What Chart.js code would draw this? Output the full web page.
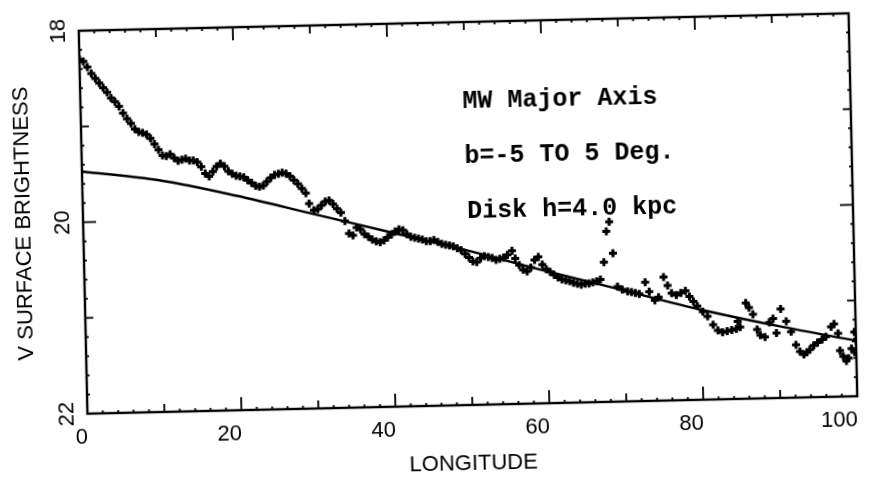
<!DOCTYPE html>
<html>
<head>
<meta charset="utf-8">
<script src="https://cdn.jsdelivr.net/npm/chart.js@4.4.1/dist/chart.umd.min.js"></script>
<style>
  html, body { margin: 0; padding: 0; background: #fff; overflow: hidden; }
  #wrap { width: 875px; height: 478px; transform: rotate(-1.3deg); transform-origin: 468px 213px; }
</style>
</head>
<body>
<div id="wrap"><canvas id="grafico" width="875" height="478"></canvas></div>
<script>
// longitud (grados) y brillo superficial V (mag/arcsec^2)
const longitud = [
  0.0, 0.5, 1.0, 1.5, 2.0, 2.5, 3.0, 3.5, 4.0, 4.5, 5.0, 5.5, 6.0, 6.5, 7.0, 7.5, 8.0, 8.5, 9.0, 9.5,
  10.0, 10.5, 11.0, 11.5, 12.0, 12.5, 13.0, 13.5, 14.0, 14.5, 15.0, 15.5, 16.0, 16.5, 17.0, 17.5, 18.0, 18.5, 19.0, 19.5,
  20.0, 20.5, 21.0, 21.5, 22.0, 22.5, 23.0, 23.5, 24.0, 24.5, 25.0, 25.5, 26.0, 26.5, 27.0, 27.5, 28.0, 28.5, 29.0, 29.4,
  30.0, 30.5, 31.0, 31.5, 32.0, 32.5, 33.0, 33.5, 34.0, 34.5, 35.0, 35.5, 36.0, 36.5, 37.0, 37.5, 38.0, 38.5, 39.0, 39.5,
  40.0, 40.5, 41.0, 41.5, 42.0, 42.5, 43.0, 43.5, 44.0, 44.5, 45.0, 45.5, 46.0, 46.5, 47.0, 47.5, 48.0, 48.5, 49.0, 49.5,
  50.0, 50.5, 51.0, 51.5, 52.0, 52.5, 53.0, 53.5, 54.0, 54.5, 55.0, 55.6, 56.0, 56.5, 57.0, 57.5, 58.0, 58.5, 59.0, 59.5,
  60.0, 60.5, 61.0, 61.5, 62.0, 62.5, 63.0, 63.5, 64.0, 64.5, 65.0, 65.5, 66.0, 66.5, 67.0, 67.5, 67.9, 68.3, 68.7, 69.2,
  69.8, 70.5, 71.0, 71.5, 72.0, 72.8, 73.3, 74.0, 74.5, 75.2, 75.7, 76.2, 76.8, 77.4, 78.0, 78.5, 79.0, 79.5, 80.2, 80.8,
  81.5, 82.1, 82.7, 83.3, 83.9, 84.5, 84.7, 85.0, 85.8, 86.2, 86.7, 87.2, 87.6, 88.2, 88.8, 89.3, 89.7, 90.3, 91.0, 91.6,
  92.2, 92.7, 93.2, 93.6, 94.0, 94.5, 95.0, 95.6, 96.1, 96.8, 97.2, 97.7, 97.9, 98.3, 98.7, 99.0, 99.4, 99.8, 99.8, 100.0
];
const brillo = [
  18.30, 18.32, 18.38, 18.45, 18.50, 18.55, 18.60, 18.65, 18.71, 18.75, 18.80, 18.87, 18.93, 18.98, 19.04, 19.07, 19.08, 19.10, 19.14, 19.20,
  19.26, 19.32, 19.33, 19.31, 19.35, 19.38, 19.37, 19.36, 19.38, 19.38, 19.40, 19.45, 19.52, 19.55, 19.50, 19.45, 19.42, 19.45, 19.50, 19.53,
  19.55, 19.56, 19.57, 19.60, 19.63, 19.66, 19.67, 19.66, 19.62, 19.58, 19.55, 19.54, 19.53, 19.54, 19.57, 19.61, 19.65, 19.70, 19.75, 19.86,
  19.93, 19.92, 19.88, 19.84, 19.83, 19.87, 19.92, 19.96, 20.05, 20.18, 20.20, 20.12, 20.14, 20.19, 20.22, 20.25, 20.27, 20.28, 20.26, 20.23,
  20.20, 20.17, 20.15, 20.16, 20.20, 20.23, 20.24, 20.25, 20.26, 20.28, 20.28, 20.27, 20.29, 20.31, 20.32, 20.33, 20.34, 20.36, 20.38, 20.42,
  20.46, 20.50, 20.51, 20.47, 20.45, 20.46, 20.47, 20.49, 20.48, 20.47, 20.44, 20.40, 20.48, 20.55, 20.60, 20.62, 20.58, 20.50, 20.47, 20.55,
  20.60, 20.63, 20.66, 20.69, 20.71, 20.72, 20.73, 20.75, 20.76, 20.77, 20.76, 20.76, 20.75, 20.74, 20.72, 20.54, 20.22, 20.12, 20.45, 20.80,
  20.83, 20.85, 20.86, 20.87, 20.88, 20.76, 20.86, 20.95, 20.92, 20.71, 20.80, 20.88, 20.90, 20.88, 20.86, 20.92, 20.97, 21.02, 21.08, 21.13,
  21.22, 21.28, 21.30, 21.29, 21.28, 21.27, 21.19, 21.25, 21.00, 21.05, 21.12, 21.28, 21.34, 21.36, 21.21, 21.17, 21.32, 21.07, 21.20, 21.31,
  21.45, 21.52, 21.55, 21.53, 21.50, 21.46, 21.43, 21.40, 21.37, 21.27, 21.24, 21.34, 21.52, 21.58, 21.63, 21.60, 21.50, 21.33, 21.54, 21.42
];
// modelo de disco exponencial h = 4.0 kpc
const modeloLon = [0, 10, 20, 30, 40, 50, 60, 70, 80, 90, 100];
const modeloMag = [19.47, 19.58, 19.76, 19.97, 20.18, 20.39, 20.62, 20.84, 21.06, 21.25, 21.42];
const xTicks = [0, 20, 40, 60, 80, 100];
const yTicks = [18, 20, 22];
const notas = ['MW Major Axis', 'b=-5 TO 5 Deg.', 'Disk h=4.0 kpc'];

const marco = {
  id: 'marco',
  afterDraw(chart) {
    const {ctx, chartArea: a, scales: {x, y}} = chart;
    const linea = (x1, y1, x2, y2) => { ctx.beginPath(); ctx.moveTo(x1, y1); ctx.lineTo(x2, y2); ctx.stroke(); };
    ctx.save();
    ctx.strokeStyle = '#000';
    ctx.lineWidth = 2.4;
    ctx.strokeRect(a.left, a.top, a.right - a.left, a.bottom - a.top);
    ctx.lineWidth = 1.8;
    for (let v = 0; v <= 100; v += 2) {
      const len = v % 20 === 0 ? 13 : (v % 10 === 0 ? 8 : 3);
      const px = x.getPixelForValue(v);
      linea(px, a.bottom, px, a.bottom - len);
      linea(px, a.top, px, a.top + len);
    }
    for (let k = 0; k <= 20; k++) {
      const len = k % 10 === 0 ? 13 : (k % 5 === 0 ? 8 : 3);
      const py = y.getPixelForValue(18 + k * 0.2);
      linea(a.left, py, a.left + len, py);
      linea(a.right, py, a.right - len, py);
    }
    ctx.fillStyle = '#000';
    ctx.font = 'bold 25px "Liberation Mono"';
    ctx.textBaseline = 'alphabetic';
    const posNotas = [[49.6, 18.90], [49.7, 19.47], [49.9, 20.05]];
    notas.forEach((t, i) => {
      ctx.fillText(t, x.getPixelForValue(posNotas[i][0]), y.getPixelForValue(posNotas[i][1]));
    });
    ctx.restore();
  }
};

const fuente = {family: '"Liberation Sans", Arial, sans-serif', size: 22};
const ctx = document.getElementById('grafico');

new Chart(ctx, {
  type: 'scatter',
  data: {
    datasets: [{
      label: 'V',
      data: longitud.map((l, i) => ({x: l, y: brillo[i]})),
      pointStyle: 'cross',
      pointRadius: 4,
      borderWidth: 3,
      borderColor: '#000',
      backgroundColor: '#000'
    }, {
      label: 'modelo',
      data: modeloLon.map((l, i) => ({x: l, y: modeloMag[i]})),
      showLine: true,
      pointRadius: 0,
      borderColor: '#000',
      borderWidth: 2.4,
      cubicInterpolationMode: 'monotone'
    }]
  },
  options: {
    responsive: false,
    animation: false,
    layout: {padding: {left: 0, right: 22, top: 22, bottom: 0}},
    plugins: {legend: {display: false}, tooltip: {enabled: false}},
    scales: {
      x: {
        type: 'linear', min: 0, max: 100,
        grid: {display: false, drawTicks: false},
        border: {display: false},
        afterBuildTicks: s => { s.ticks = xTicks.map(v => ({value: v})); },
        afterFit: s => { s.height = 73; },
        ticks: {font: fuente, color: '#000', padding: 11, align: 'end', maxRotation: 0},
        title: {display: true, text: 'LONGITUDE', font: fuente, color: '#000', padding: {top: 0, bottom: 1}}
      },
      y: {
        type: 'linear', min: 18, max: 22, reverse: true,
        grid: {display: false, drawTicks: false},
        border: {display: false},
        afterBuildTicks: s => { s.ticks = yTicks.map(v => ({value: v})); },
        afterFit: s => { s.width = 83; },
        ticks: {font: fuente, color: '#000', padding: 8, minRotation: 90, maxRotation: 90, crossAlign: 'center'},
        title: {display: true, text: 'V SURFACE BRIGHTNESS', font: fuente, color: '#000', padding: {top: 11, bottom: 0}}
      }
    }
  },
  plugins: [marco]
});
</script>
</body>
</html>
